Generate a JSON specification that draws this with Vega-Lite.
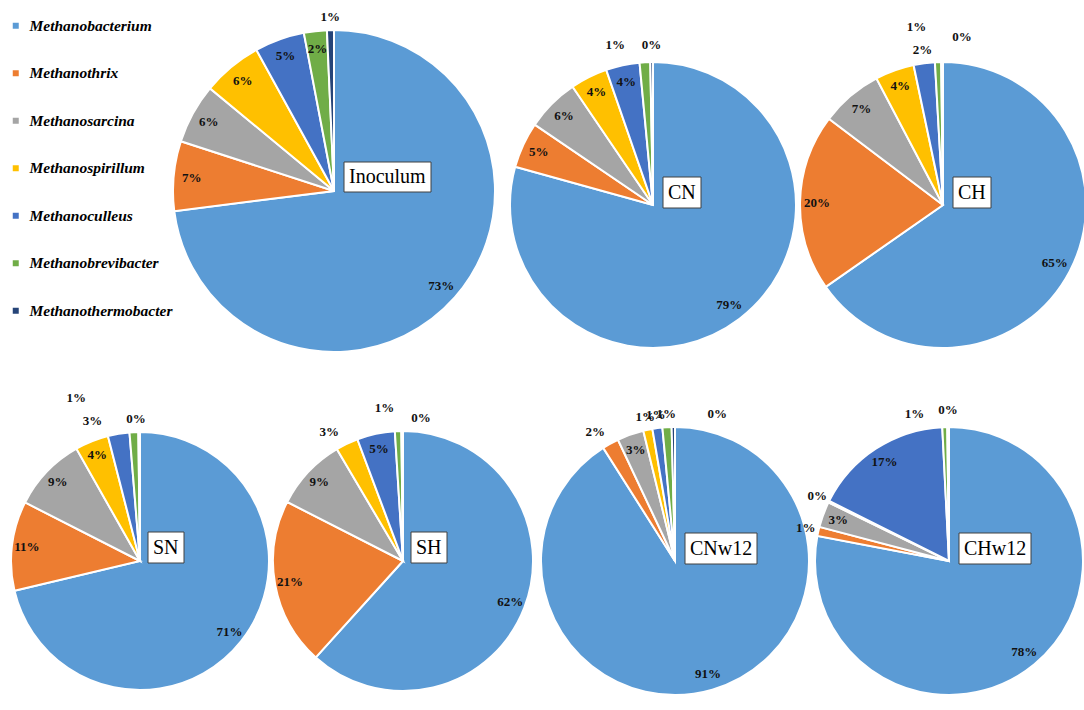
{
  "$schema": "https://vega.github.io/schema/vega-lite/v6.json",
  "background": "white",
  "padding": {"left": 7, "top": 11, "right": 0, "bottom": 0},
  "config": {"view": {"stroke": null}},
  "datasets": {
    "comp": [
      {"sample": "Inoculum", "genus": "Methanobacterium", "share": 0.73},
      {"sample": "Inoculum", "genus": "Methanothrix", "share": 0.07},
      {"sample": "Inoculum", "genus": "Methanosarcina", "share": 0.06},
      {"sample": "Inoculum", "genus": "Methanospirillum", "share": 0.06},
      {"sample": "Inoculum", "genus": "Methanoculleus", "share": 0.05},
      {"sample": "Inoculum", "genus": "Methanobrevibacter", "share": 0.023},
      {"sample": "Inoculum", "genus": "Methanothermobacter", "share": 0.007},
      {"sample": "CN", "genus": "Methanobacterium", "share": 0.793},
      {"sample": "CN", "genus": "Methanothrix", "share": 0.052},
      {"sample": "CN", "genus": "Methanosarcina", "share": 0.06},
      {"sample": "CN", "genus": "Methanospirillum", "share": 0.042},
      {"sample": "CN", "genus": "Methanoculleus", "share": 0.038},
      {"sample": "CN", "genus": "Methanobrevibacter", "share": 0.012},
      {"sample": "CN", "genus": "Methanothermobacter", "share": 0.003},
      {"sample": "CH", "genus": "Methanobacterium", "share": 0.653},
      {"sample": "CH", "genus": "Methanothrix", "share": 0.2},
      {"sample": "CH", "genus": "Methanosarcina", "share": 0.07},
      {"sample": "CH", "genus": "Methanospirillum", "share": 0.044},
      {"sample": "CH", "genus": "Methanoculleus", "share": 0.024},
      {"sample": "CH", "genus": "Methanobrevibacter", "share": 0.007},
      {"sample": "CH", "genus": "Methanothermobacter", "share": 0.002},
      {"sample": "SN", "genus": "Methanobacterium", "share": 0.713},
      {"sample": "SN", "genus": "Methanothrix", "share": 0.112},
      {"sample": "SN", "genus": "Methanosarcina", "share": 0.093},
      {"sample": "SN", "genus": "Methanospirillum", "share": 0.042},
      {"sample": "SN", "genus": "Methanoculleus", "share": 0.027},
      {"sample": "SN", "genus": "Methanobrevibacter", "share": 0.011},
      {"sample": "SN", "genus": "Methanothermobacter", "share": 0.002},
      {"sample": "SH", "genus": "Methanobacterium", "share": 0.617},
      {"sample": "SH", "genus": "Methanothrix", "share": 0.208},
      {"sample": "SH", "genus": "Methanosarcina", "share": 0.09},
      {"sample": "SH", "genus": "Methanospirillum", "share": 0.028},
      {"sample": "SH", "genus": "Methanoculleus", "share": 0.047},
      {"sample": "SH", "genus": "Methanobrevibacter", "share": 0.008},
      {"sample": "SH", "genus": "Methanothermobacter", "share": 0.002},
      {"sample": "CNw12", "genus": "Methanobacterium", "share": 0.91},
      {"sample": "CNw12", "genus": "Methanothrix", "share": 0.02},
      {"sample": "CNw12", "genus": "Methanosarcina", "share": 0.032},
      {"sample": "CNw12", "genus": "Methanospirillum", "share": 0.011},
      {"sample": "CNw12", "genus": "Methanoculleus", "share": 0.012},
      {"sample": "CNw12", "genus": "Methanobrevibacter", "share": 0.011},
      {"sample": "CNw12", "genus": "Methanothermobacter", "share": 0.004},
      {"sample": "CHw12", "genus": "Methanobacterium", "share": 0.78},
      {"sample": "CHw12", "genus": "Methanothrix", "share": 0.011},
      {"sample": "CHw12", "genus": "Methanosarcina", "share": 0.031},
      {"sample": "CHw12", "genus": "Methanospirillum", "share": 0.002},
      {"sample": "CHw12", "genus": "Methanoculleus", "share": 0.168},
      {"sample": "CHw12", "genus": "Methanobrevibacter", "share": 0.006},
      {"sample": "CHw12", "genus": "Methanothermobacter", "share": 0.002}
    ]
  },
  "data": {"name": "comp"},
  "transform": [
    {"calculate": "indexof(['Methanobacterium','Methanothrix','Methanosarcina','Methanospirillum','Methanoculleus','Methanobrevibacter','Methanothermobacter'], datum.genus)", "as": "k"},
    {"stack": "share", "groupby": ["sample"], "sort": [{"field": "k", "order": "ascending"}], "as": ["t0", "t1"]},
    {"calculate": "(datum.t0 + datum.t1) / 2", "as": "tm"}
  ],
  "spacing": 0,
  "resolve": {"scale": {"theta": "independent", "color": "independent"}, "legend": {"color": "independent"}},
  "vconcat": [
    {
      "spacing": 0,
      "bounds": "flush",
      "resolve": {"scale": {"theta": "independent", "color": "independent"}, "legend": {"color": "independent"}},
      "hconcat": [
        {
          "width": 163,
          "height": 346,
          "transform": [{"filter": "datum.sample === 'Inoculum' && datum.k === 0"}],
          "mark": {"type": "text"},
          "encoding": {"text": {"value": ""}}
        },
        {
          "width": 322,
          "height": 346,
          "transform": [{"filter": "datum.sample === 'Inoculum'"}],
          "layer": [
            {
              "mark": {"type": "arc", "outerRadius": 161, "stroke": "white", "strokeWidth": 2},
              "encoding": {
                "theta": {"field": "t0", "type": "quantitative", "scale": {"domain": [0, 1]}},
                "theta2": {"field": "t1"},
                "color": {
                  "field": "genus",
                  "type": "nominal",
                  "scale": {
                    "domain": ["Methanobacterium", "Methanothrix", "Methanosarcina", "Methanospirillum", "Methanoculleus", "Methanobrevibacter", "Methanothermobacter"],
                    "range": ["#5B9BD5", "#ED7D31", "#A5A5A5", "#FFC000", "#4472C4", "#70AD47", "#264478"]
                  },
                  "legend": {
                    "orient": "left",
                    "title": null,
                    "offset": 0,
                    "padding": 0,
                    "symbolType": "square",
                    "symbolSize": 36,
                    "symbolStrokeWidth": 0,
                    "symbolOpacity": 1,
                    "labelFont": "Liberation Serif",
                    "labelFontSize": 15.5,
                    "labelFontStyle": "italic",
                    "labelFontWeight": "bold",
                    "labelColor": "#000000",
                    "labelOffset": 6,
                    "labelLimit": 300,
                    "rowPadding": 30.5
                  }
                }
              }
            },
            {
              "transform": [{"filter": "datum.k === 0"}],
              "mark": {"type": "point", "shape": "M10,-29H97V1H10Z", "size": 4, "filled": true, "fill": "white", "stroke": "#404040", "strokeWidth": 1, "opacity": 1},
              "encoding": {}
            },
            {
              "transform": [{"filter": "datum.k === 0"}],
              "mark": {"type": "text", "align": "left", "baseline": "middle", "dx": 15, "dy": -14, "font": "Liberation Serif", "fontSize": 20, "color": "#000000"},
              "encoding": {"text": {"field": "sample", "type": "nominal"}}
            },
            {
              "transform": [{"filter": "datum.share >= 0.02"}],
              "mark": {"type": "text", "radius": 143, "font": "Liberation Serif", "fontWeight": "bold", "fontSize": 13, "color": "#111111", "align": "center", "baseline": "middle"},
              "encoding": {
                "theta": {"field": "tm", "type": "quantitative", "scale": {"domain": [0, 1]}},
                "text": {"field": "share", "type": "quantitative", "format": ".0%"}
              }
            },
            {
              "transform": [{"filter": "datum.share < 0.02"}],
              "mark": {"type": "text", "radius": 174, "font": "Liberation Serif", "fontWeight": "bold", "fontSize": 13, "color": "#111111", "align": "center", "baseline": "middle"},
              "encoding": {
                "theta": {"field": "tm", "type": "quantitative", "scale": {"domain": [0, 1]}},
                "text": {"field": "share", "type": "quantitative", "format": ".0%"}
              }
            }
          ]
        },
        {
          "width": 316,
          "height": 374,
          "transform": [{"filter": "datum.sample === 'CN'"}],
          "layer": [
            {
              "mark": {"type": "arc", "outerRadius": 143, "stroke": "white", "strokeWidth": 2},
              "encoding": {
                "theta": {"field": "t0", "type": "quantitative", "scale": {"domain": [0, 1]}},
                "theta2": {"field": "t1"},
                "color": {
                  "field": "genus",
                  "type": "nominal",
                  "scale": {
                    "domain": ["Methanobacterium", "Methanothrix", "Methanosarcina", "Methanospirillum", "Methanoculleus", "Methanobrevibacter", "Methanothermobacter"],
                    "range": ["#5B9BD5", "#ED7D31", "#A5A5A5", "#FFC000", "#4472C4", "#70AD47", "#264478"]
                  },
                  "legend": null
                }
              }
            },
            {
              "transform": [{"filter": "datum.k === 0"}],
              "mark": {"type": "point", "shape": "M10,-28H48V3H10Z", "size": 4, "filled": true, "fill": "white", "stroke": "#404040", "strokeWidth": 1, "opacity": 1},
              "encoding": {}
            },
            {
              "transform": [{"filter": "datum.k === 0"}],
              "mark": {"type": "text", "align": "left", "baseline": "middle", "dx": 15, "dy": -12.5, "font": "Liberation Serif", "fontSize": 20, "color": "#000000"},
              "encoding": {"text": {"field": "sample", "type": "nominal"}}
            },
            {
              "transform": [{"filter": "datum.share >= 0.03"}],
              "mark": {"type": "text", "radius": 126, "font": "Liberation Serif", "fontWeight": "bold", "fontSize": 13, "color": "#111111", "align": "center", "baseline": "middle"},
              "encoding": {
                "theta": {"field": "tm", "type": "quantitative", "scale": {"domain": [0, 1]}},
                "text": {"field": "share", "type": "quantitative", "format": ".0%"}
              }
            },
            {
              "transform": [{"filter": "datum.genus === 'Methanobrevibacter'"}],
              "mark": {"type": "text", "radius": 156, "font": "Liberation Serif", "fontWeight": "bold", "fontSize": 13, "color": "#111111", "align": "center", "baseline": "middle", "dx": -29, "dy": -4},
              "encoding": {
                "theta": {"field": "tm", "type": "quantitative", "scale": {"domain": [0, 1]}},
                "text": {"field": "share", "type": "quantitative", "format": ".0%"}
              }
            },
            {
              "transform": [{"filter": "datum.genus === 'Methanothermobacter'"}],
              "mark": {"type": "text", "radius": 156, "font": "Liberation Serif", "fontWeight": "bold", "fontSize": 13, "color": "#111111", "align": "center", "baseline": "middle", "dy": -4},
              "encoding": {
                "theta": {"field": "tm", "type": "quantitative", "scale": {"domain": [0, 1]}},
                "text": {"field": "share", "type": "quantitative", "format": ".0%"}
              }
            }
          ]
        },
        {
          "width": 264,
          "height": 374,
          "transform": [{"filter": "datum.sample === 'CH'"}],
          "layer": [
            {
              "mark": {"type": "arc", "outerRadius": 143, "stroke": "white", "strokeWidth": 2},
              "encoding": {
                "theta": {"field": "t0", "type": "quantitative", "scale": {"domain": [0, 1]}},
                "theta2": {"field": "t1"},
                "color": {
                  "field": "genus",
                  "type": "nominal",
                  "scale": {
                    "domain": ["Methanobacterium", "Methanothrix", "Methanosarcina", "Methanospirillum", "Methanoculleus", "Methanobrevibacter", "Methanothermobacter"],
                    "range": ["#5B9BD5", "#ED7D31", "#A5A5A5", "#FFC000", "#4472C4", "#70AD47", "#264478"]
                  },
                  "legend": null
                }
              }
            },
            {
              "transform": [{"filter": "datum.k === 0"}],
              "mark": {"type": "point", "shape": "M10,-28H48V3H10Z", "size": 4, "filled": true, "fill": "white", "stroke": "#404040", "strokeWidth": 1, "opacity": 1},
              "encoding": {}
            },
            {
              "transform": [{"filter": "datum.k === 0"}],
              "mark": {"type": "text", "align": "left", "baseline": "middle", "dx": 15, "dy": -12.5, "font": "Liberation Serif", "fontSize": 20, "color": "#000000"},
              "encoding": {"text": {"field": "sample", "type": "nominal"}}
            },
            {
              "transform": [{"filter": "datum.share >= 0.03"}],
              "mark": {"type": "text", "radius": 126, "font": "Liberation Serif", "fontWeight": "bold", "fontSize": 13, "color": "#111111", "align": "center", "baseline": "middle"},
              "encoding": {
                "theta": {"field": "tm", "type": "quantitative", "scale": {"domain": [0, 1]}},
                "text": {"field": "share", "type": "quantitative", "format": ".0%"}
              }
            },
            {
              "transform": [{"filter": "datum.genus === 'Methanoculleus'"}],
              "mark": {"type": "text", "radius": 156, "font": "Liberation Serif", "fontWeight": "bold", "fontSize": 13, "color": "#111111", "align": "center", "baseline": "middle"},
              "encoding": {
                "theta": {"field": "tm", "type": "quantitative", "scale": {"domain": [0, 1]}},
                "text": {"field": "share", "type": "quantitative", "format": ".0%"}
              }
            },
            {
              "transform": [{"filter": "datum.genus === 'Methanobrevibacter'"}],
              "mark": {"type": "text", "radius": 156, "font": "Liberation Serif", "fontWeight": "bold", "fontSize": 13, "color": "#111111", "align": "center", "baseline": "middle", "dx": -21, "dy": -22},
              "encoding": {
                "theta": {"field": "tm", "type": "quantitative", "scale": {"domain": [0, 1]}},
                "text": {"field": "share", "type": "quantitative", "format": ".0%"}
              }
            },
            {
              "transform": [{"filter": "datum.genus === 'Methanothermobacter'"}],
              "mark": {"type": "text", "radius": 156, "font": "Liberation Serif", "fontWeight": "bold", "fontSize": 13, "color": "#111111", "align": "center", "baseline": "middle", "dx": 20, "dy": -12},
              "encoding": {
                "theta": {"field": "tm", "type": "quantitative", "scale": {"domain": [0, 1]}},
                "text": {"field": "share", "type": "quantitative", "format": ".0%"}
              }
            }
          ]
        }
      ]
    },
    {
      "spacing": 0,
      "bounds": "flush",
      "resolve": {"scale": {"theta": "independent", "color": "independent"}, "legend": {"color": "independent"}},
      "hconcat": [
        {
          "width": 260,
          "height": 276,
          "transform": [{"filter": "datum.sample === 'SN'"}],
          "layer": [
            {
              "mark": {"type": "arc", "outerRadius": 129, "stroke": "white", "strokeWidth": 2},
              "encoding": {
                "theta": {"field": "t0", "type": "quantitative", "scale": {"domain": [0, 1]}},
                "theta2": {"field": "t1"},
                "color": {
                  "field": "genus",
                  "type": "nominal",
                  "scale": {
                    "domain": ["Methanobacterium", "Methanothrix", "Methanosarcina", "Methanospirillum", "Methanoculleus", "Methanobrevibacter", "Methanothermobacter"],
                    "range": ["#5B9BD5", "#ED7D31", "#A5A5A5", "#FFC000", "#4472C4", "#70AD47", "#264478"]
                  },
                  "legend": null
                }
              }
            },
            {
              "transform": [{"filter": "datum.k === 0"}],
              "mark": {"type": "point", "shape": "M8,-29H44V2H8Z", "size": 4, "filled": true, "fill": "white", "stroke": "#404040", "strokeWidth": 1, "opacity": 1},
              "encoding": {}
            },
            {
              "transform": [{"filter": "datum.k === 0"}],
              "mark": {"type": "text", "align": "left", "baseline": "middle", "dx": 13, "dy": -13.5, "font": "Liberation Serif", "fontSize": 20, "color": "#000000"},
              "encoding": {"text": {"field": "sample", "type": "nominal"}}
            },
            {
              "transform": [{"filter": "datum.share >= 0.03"}],
              "mark": {"type": "text", "radius": 114, "font": "Liberation Serif", "fontWeight": "bold", "fontSize": 13, "color": "#111111", "align": "center", "baseline": "middle"},
              "encoding": {
                "theta": {"field": "tm", "type": "quantitative", "scale": {"domain": [0, 1]}},
                "text": {"field": "share", "type": "quantitative", "format": ".0%"}
              }
            },
            {
              "transform": [{"filter": "datum.genus === 'Methanoculleus'"}],
              "mark": {"type": "text", "radius": 142, "font": "Liberation Serif", "fontWeight": "bold", "fontSize": 13, "color": "#111111", "align": "center", "baseline": "middle", "dx": -24},
              "encoding": {
                "theta": {"field": "tm", "type": "quantitative", "scale": {"domain": [0, 1]}},
                "text": {"field": "share", "type": "quantitative", "format": ".0%"}
              }
            },
            {
              "transform": [{"filter": "datum.genus === 'Methanobrevibacter'"}],
              "mark": {"type": "text", "radius": 142, "font": "Liberation Serif", "fontWeight": "bold", "fontSize": 13, "color": "#111111", "align": "center", "baseline": "middle", "dx": -57, "dy": -21},
              "encoding": {
                "theta": {"field": "tm", "type": "quantitative", "scale": {"domain": [0, 1]}},
                "text": {"field": "share", "type": "quantitative", "format": ".0%"}
              }
            },
            {
              "transform": [{"filter": "datum.genus === 'Methanothermobacter'"}],
              "mark": {"type": "text", "radius": 142, "font": "Liberation Serif", "fontWeight": "bold", "fontSize": 13, "color": "#111111", "align": "center", "baseline": "middle", "dx": -3},
              "encoding": {
                "theta": {"field": "tm", "type": "quantitative", "scale": {"domain": [0, 1]}},
                "text": {"field": "share", "type": "quantitative", "format": ".0%"}
              }
            }
          ]
        },
        {
          "width": 266,
          "height": 276,
          "transform": [{"filter": "datum.sample === 'SH'"}],
          "layer": [
            {
              "mark": {"type": "arc", "outerRadius": 130, "stroke": "white", "strokeWidth": 2},
              "encoding": {
                "theta": {"field": "t0", "type": "quantitative", "scale": {"domain": [0, 1]}},
                "theta2": {"field": "t1"},
                "color": {
                  "field": "genus",
                  "type": "nominal",
                  "scale": {
                    "domain": ["Methanobacterium", "Methanothrix", "Methanosarcina", "Methanospirillum", "Methanoculleus", "Methanobrevibacter", "Methanothermobacter"],
                    "range": ["#5B9BD5", "#ED7D31", "#A5A5A5", "#FFC000", "#4472C4", "#70AD47", "#264478"]
                  },
                  "legend": null
                }
              }
            },
            {
              "transform": [{"filter": "datum.k === 0"}],
              "mark": {"type": "point", "shape": "M8,-29H44V2H8Z", "size": 4, "filled": true, "fill": "white", "stroke": "#404040", "strokeWidth": 1, "opacity": 1},
              "encoding": {}
            },
            {
              "transform": [{"filter": "datum.k === 0"}],
              "mark": {"type": "text", "align": "left", "baseline": "middle", "dx": 13, "dy": -13.5, "font": "Liberation Serif", "fontSize": 20, "color": "#000000"},
              "encoding": {"text": {"field": "sample", "type": "nominal"}}
            },
            {
              "transform": [{"filter": "datum.share >= 0.03"}],
              "mark": {"type": "text", "radius": 115, "font": "Liberation Serif", "fontWeight": "bold", "fontSize": 13, "color": "#111111", "align": "center", "baseline": "middle"},
              "encoding": {
                "theta": {"field": "tm", "type": "quantitative", "scale": {"domain": [0, 1]}},
                "text": {"field": "share", "type": "quantitative", "format": ".0%"}
              }
            },
            {
              "transform": [{"filter": "datum.genus === 'Methanospirillum'"}],
              "mark": {"type": "text", "radius": 143, "font": "Liberation Serif", "fontWeight": "bold", "fontSize": 13, "color": "#111111", "align": "center", "baseline": "middle", "dx": -12},
              "encoding": {
                "theta": {"field": "tm", "type": "quantitative", "scale": {"domain": [0, 1]}},
                "text": {"field": "share", "type": "quantitative", "format": ".0%"}
              }
            },
            {
              "transform": [{"filter": "datum.genus === 'Methanobrevibacter'"}],
              "mark": {"type": "text", "radius": 143, "font": "Liberation Serif", "fontWeight": "bold", "fontSize": 13, "color": "#111111", "align": "center", "baseline": "middle", "dx": -13, "dy": -10},
              "encoding": {
                "theta": {"field": "tm", "type": "quantitative", "scale": {"domain": [0, 1]}},
                "text": {"field": "share", "type": "quantitative", "format": ".0%"}
              }
            },
            {
              "transform": [{"filter": "datum.genus === 'Methanothermobacter'"}],
              "mark": {"type": "text", "radius": 143, "font": "Liberation Serif", "fontWeight": "bold", "fontSize": 13, "color": "#111111", "align": "center", "baseline": "middle", "dx": 19},
              "encoding": {
                "theta": {"field": "tm", "type": "quantitative", "scale": {"domain": [0, 1]}},
                "text": {"field": "share", "type": "quantitative", "format": ".0%"}
              }
            }
          ]
        },
        {
          "width": 278,
          "height": 276,
          "transform": [{"filter": "datum.sample === 'CNw12'"}],
          "layer": [
            {
              "mark": {"type": "arc", "outerRadius": 134, "stroke": "white", "strokeWidth": 2},
              "encoding": {
                "theta": {"field": "t0", "type": "quantitative", "scale": {"domain": [0, 1]}},
                "theta2": {"field": "t1"},
                "color": {
                  "field": "genus",
                  "type": "nominal",
                  "scale": {
                    "domain": ["Methanobacterium", "Methanothrix", "Methanosarcina", "Methanospirillum", "Methanoculleus", "Methanobrevibacter", "Methanothermobacter"],
                    "range": ["#5B9BD5", "#ED7D31", "#A5A5A5", "#FFC000", "#4472C4", "#70AD47", "#264478"]
                  },
                  "legend": null
                }
              }
            },
            {
              "transform": [{"filter": "datum.k === 0"}],
              "mark": {"type": "point", "shape": "M10,-28H82V3H10Z", "size": 4, "filled": true, "fill": "white", "stroke": "#404040", "strokeWidth": 1, "opacity": 1},
              "encoding": {}
            },
            {
              "transform": [{"filter": "datum.k === 0"}],
              "mark": {"type": "text", "align": "left", "baseline": "middle", "dx": 15, "dy": -12.5, "font": "Liberation Serif", "fontSize": 20, "color": "#000000"},
              "encoding": {"text": {"field": "sample", "type": "nominal"}}
            },
            {
              "transform": [{"filter": "datum.share >= 0.03"}],
              "mark": {"type": "text", "radius": 118, "font": "Liberation Serif", "fontWeight": "bold", "fontSize": 13, "color": "#111111", "align": "center", "baseline": "middle"},
              "encoding": {
                "theta": {"field": "tm", "type": "quantitative", "scale": {"domain": [0, 1]}},
                "text": {"field": "share", "type": "quantitative", "format": ".0%"}
              }
            },
            {
              "transform": [{"filter": {"field": "genus", "oneOf": ["Methanospirillum", "Methanoculleus", "Methanobrevibacter"]}}],
              "mark": {"type": "text", "radius": 147, "font": "Liberation Serif", "fontWeight": "bold", "fontSize": 13, "color": "#111111", "align": "center", "baseline": "middle"},
              "encoding": {
                "theta": {"field": "tm", "type": "quantitative", "scale": {"domain": [0, 1]}},
                "text": {"field": "share", "type": "quantitative", "format": ".0%"}
              }
            },
            {
              "transform": [{"filter": "datum.genus === 'Methanothrix'"}],
              "mark": {"type": "text", "radius": 147, "font": "Liberation Serif", "fontWeight": "bold", "fontSize": 13, "color": "#111111", "align": "center", "baseline": "middle", "dx": -9},
              "encoding": {
                "theta": {"field": "tm", "type": "quantitative", "scale": {"domain": [0, 1]}},
                "text": {"field": "share", "type": "quantitative", "format": ".0%"}
              }
            },
            {
              "transform": [{"filter": "datum.genus === 'Methanothermobacter'"}],
              "mark": {"type": "text", "radius": 147, "font": "Liberation Serif", "fontWeight": "bold", "fontSize": 13, "color": "#111111", "align": "center", "baseline": "middle", "dx": 44},
              "encoding": {
                "theta": {"field": "tm", "type": "quantitative", "scale": {"domain": [0, 1]}},
                "text": {"field": "share", "type": "quantitative", "format": ".0%"}
              }
            }
          ]
        },
        {
          "width": 270,
          "height": 276,
          "transform": [{"filter": "datum.sample === 'CHw12'"}],
          "layer": [
            {
              "mark": {"type": "arc", "outerRadius": 134, "stroke": "white", "strokeWidth": 2},
              "encoding": {
                "theta": {"field": "t0", "type": "quantitative", "scale": {"domain": [0, 1]}},
                "theta2": {"field": "t1"},
                "color": {
                  "field": "genus",
                  "type": "nominal",
                  "scale": {
                    "domain": ["Methanobacterium", "Methanothrix", "Methanosarcina", "Methanospirillum", "Methanoculleus", "Methanobrevibacter", "Methanothermobacter"],
                    "range": ["#5B9BD5", "#ED7D31", "#A5A5A5", "#FFC000", "#4472C4", "#70AD47", "#264478"]
                  },
                  "legend": null
                }
              }
            },
            {
              "transform": [{"filter": "datum.k === 0"}],
              "mark": {"type": "point", "shape": "M10,-28H82V3H10Z", "size": 4, "filled": true, "fill": "white", "stroke": "#404040", "strokeWidth": 1, "opacity": 1},
              "encoding": {}
            },
            {
              "transform": [{"filter": "datum.k === 0"}],
              "mark": {"type": "text", "align": "left", "baseline": "middle", "dx": 15, "dy": -12.5, "font": "Liberation Serif", "fontSize": 20, "color": "#000000"},
              "encoding": {"text": {"field": "sample", "type": "nominal"}}
            },
            {
              "transform": [{"filter": "datum.share >= 0.03"}],
              "mark": {"type": "text", "radius": 118, "font": "Liberation Serif", "fontWeight": "bold", "fontSize": 13, "color": "#111111", "align": "center", "baseline": "middle"},
              "encoding": {
                "theta": {"field": "tm", "type": "quantitative", "scale": {"domain": [0, 1]}},
                "text": {"field": "share", "type": "quantitative", "format": ".0%"}
              }
            },
            {
              "transform": [{"filter": {"field": "genus", "oneOf": ["Methanothrix", "Methanospirillum"]}}],
              "mark": {"type": "text", "radius": 147, "font": "Liberation Serif", "fontWeight": "bold", "fontSize": 13, "color": "#111111", "align": "center", "baseline": "middle"},
              "encoding": {
                "theta": {"field": "tm", "type": "quantitative", "scale": {"domain": [0, 1]}},
                "text": {"field": "share", "type": "quantitative", "format": ".0%"}
              }
            },
            {
              "transform": [{"filter": "datum.genus === 'Methanobrevibacter'"}],
              "mark": {"type": "text", "radius": 147, "font": "Liberation Serif", "fontWeight": "bold", "fontSize": 13, "color": "#111111", "align": "center", "baseline": "middle", "dx": -30},
              "encoding": {
                "theta": {"field": "tm", "type": "quantitative", "scale": {"domain": [0, 1]}},
                "text": {"field": "share", "type": "quantitative", "format": ".0%"}
              }
            },
            {
              "transform": [{"filter": "datum.genus === 'Methanothermobacter'"}],
              "mark": {"type": "text", "radius": 147, "font": "Liberation Serif", "fontWeight": "bold", "fontSize": 13, "color": "#111111", "align": "center", "baseline": "middle", "dy": -4},
              "encoding": {
                "theta": {"field": "tm", "type": "quantitative", "scale": {"domain": [0, 1]}},
                "text": {"field": "share", "type": "quantitative", "format": ".0%"}
              }
            }
          ]
        }
      ]
    }
  ]
}
